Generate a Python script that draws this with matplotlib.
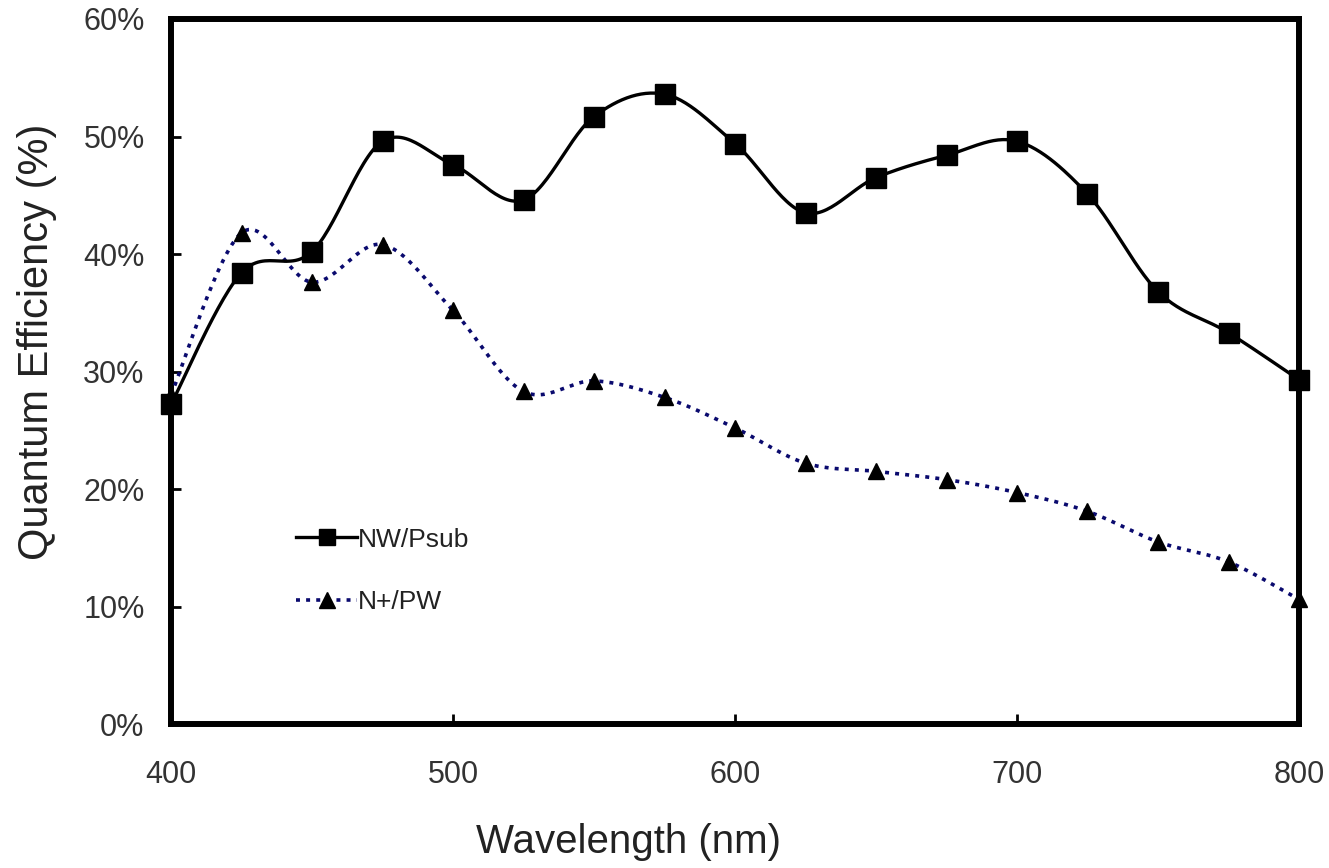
import numpy as np
import matplotlib
matplotlib.use("Agg")
import matplotlib.pyplot as plt
from matplotlib.ticker import FuncFormatter

plt.rcParams['font.family'] = ['Liberation Sans', 'DejaVu Sans']

wavelength = [400, 425, 450, 475, 500, 525, 550, 575, 600, 625, 650, 675, 700, 725, 750, 775, 800]
qe_nw_psub = [27.2, 38.4, 40.2, 49.6, 47.6, 44.6, 51.7, 53.6, 49.4, 43.5, 46.5, 48.4, 49.6, 45.1, 36.8, 33.3, 29.3]
qe_np_pw = [28.0, 41.8, 37.6, 40.8, 35.2, 28.3, 29.2, 27.8, 25.2, 22.2, 21.5, 20.8, 19.7, 18.1, 15.5, 13.8, 10.6]

series_labels = ["NW/Psub", "N+/PW"]
y_ticks = [0, 10, 20, 30, 40, 50, 60]
x_ticks = [400, 500, 600, 700, 800]

W, H = 1329, 868
fig = plt.figure(figsize=(W / 100, H / 100), dpi=100)
ax = fig.add_axes([171 / W, 1 - 724 / H, (1299 - 171) / W, (724 - 19) / H])

ax.set_xlim(400, 800)
ax.set_ylim(0, 60)

# spreadsheet-style smoothed curve (cubic Bezier through the points),
# computed in screen proportions so the curvature looks right
sx = (1299 - 171) / 400.0
sy = (724 - 19) / 60.0


def smooth(xs, ys, n=30):
    p = np.column_stack([np.asarray(xs, float) * sx, np.asarray(ys, float) * sy])
    ext = np.vstack([p[0], p, p[-1]])
    out = []
    for i in range(len(p) - 1):
        p0, p1, p2, p3 = ext[i], ext[i + 1], ext[i + 2], ext[i + 3]
        c1 = p1 + (p2 - p0) / 6.0
        c2 = p2 - (p3 - p1) / 6.0
        t = np.linspace(0, 1, n, endpoint=(i == len(p) - 2))[:, None]
        seg = ((1 - t) ** 3) * p1 + 3 * ((1 - t) ** 2) * t * c1 + 3 * (1 - t) * t ** 2 * c2 + t ** 3 * p2
        out.append(seg)
    out = np.vstack(out)
    return out[:, 0] / sx, out[:, 1] / sy


dot_style = (0, (1.1, 1.7))
navy = "#0a0a6e"

cx, cy = smooth(wavelength, qe_np_pw)
ax.plot(cx, cy, color=navy, lw=2.6, linestyle=dot_style,
        dash_capstyle="butt", zorder=3, clip_on=False)
ax.plot(wavelength, qe_np_pw, linestyle="none", marker="^", ms=12,
        color="black", zorder=4, clip_on=False)

cx, cy = smooth(wavelength, qe_nw_psub)
ax.plot(cx, cy, color="black", lw=2.4, zorder=5, clip_on=False)
ax.plot(wavelength, qe_nw_psub, linestyle="none", marker="s", ms=14,
        color="black", zorder=6, clip_on=False)

# legend entries
h1, = ax.plot([], [], color="black", lw=2.4, marker="s", ms=12)
h2, = ax.plot([], [], color=navy, lw=2.6, linestyle=dot_style,
              marker="^", ms=11, markerfacecolor="black", markeredgecolor="black")
leg = ax.legend([h1, h2], series_labels, loc="center left",
                bbox_to_anchor=(0.111, 0.217), frameon=False, fontsize=19,
                handlelength=2.3, handletextpad=0.05, labelspacing=1.47,
                labelcolor="#222222", borderpad=0, borderaxespad=0)

for s in ax.spines.values():
    s.set_linewidth(4.3)
    s.set_color("black")

ax.set_xticks(x_ticks)
ax.set_yticks(y_ticks)
ax.yaxis.set_major_formatter(FuncFormatter(lambda v, p: f"{int(v)}%"))
ax.tick_params(axis="both", direction="in", length=7, width=2, color="black",
               labelsize=22, labelcolor="#333333")
ax.tick_params(axis="y", pad=19)
ax.tick_params(axis="x", pad=26)

ax.set_xlabel("Wavelength (nm)", fontsize=29, color="#222222")
ax.xaxis.set_label_coords((628 - 171) / 1128, (724 - 823) / 705)
ax.set_ylabel("Quantum Efficiency (%)", fontsize=30, color="#222222")
ax.yaxis.set_label_coords((57 - 171) / 1128, (724 - 342) / 705)

fig.savefig("out.png", dpi=100, facecolor="white")
